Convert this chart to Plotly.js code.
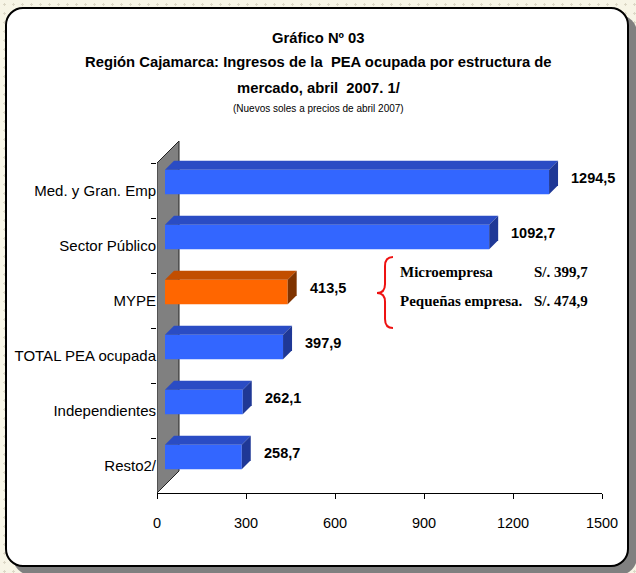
<!DOCTYPE html>
<html>
<head>
<meta charset="utf-8">
<script src="https://cdn.plot.ly/plotly-3.0.1.min.js"></script>
<style>
  html, body { margin: 0; padding: 0; width: 636px; height: 573px; overflow: hidden;
    background-color: #f7f5e6;
    background-image: radial-gradient(circle, #dcd8c6 1px, transparent 1.4px);
    background-size: 9px 9px; }
  #card { position: absolute; left: 5px; top: 7px; width: 624px; height: 560px; box-sizing: border-box;
    border: 2px solid #000; border-radius: 18px; background: #fff; box-shadow: 8px 8px 0 #808080; }
  #chart { position: absolute; left: 0; top: 0; width: 636px; height: 573px; }
</style>
</head>
<body>
<div id="card"></div>
<div id="chart"></div>
<script>
// ---- data ----
const categories = ["Med. y Gran. Emp", "Sector Público", "MYPE", "TOTAL PEA ocupada", "Independientes", "Resto2/"];
const values = [1294.5, 1092.7, 413.5, 397.9, 262.1, 258.7];
const valueLabels = ["1294,5", "1092,7", "413,5", "397,9", "262,1", "258,7"];
const xTickVals = [0, 300, 600, 900, 1200, 1500];
const xTickText = ["0", "300", "600", "900", "1200", "1500"];
const mypeParts = ["Microempresa", "Pequeñas empresa."];
const mypePartLabels = ["S/. 399,7", "S/. 474,9"];

// ---- styles ----
const SANS = "'Liberation Sans', Arial, sans-serif";
const SERIF = "'Liberation Serif', 'Times New Roman', serif";
const W = 636, H = 573;
const M = { l: 157, r: 34, t: 140, b: 80 };
const plotW = W - M.l - M.r, plotH = H - M.t - M.b;
const xMax = 1500;
const kx = xMax / plotW;          // data units per px (x)
const catPx = 55;                 // px per category
const ky = 1 / catPx;             // index units per px (y)
const yTop = -0.5 - (163 - M.t) / catPx;
const yRange = [5.5, yTop];

const blue = { front: "#3366ff", top: "#2a4cc4", side: "#1f3896" };
const orange = { front: "#ff6600", top: "#c24e00", side: "#7f3300" };
const colorsFor = categories.map(c => c === "MYPE" ? orange : blue);

// 3D geometry (px)
const frontDepth = 8, barDepth = 9, wallDepth = 22;
const barOffset = -0.377, barWidth = 0.445;
const dX = frontDepth * kx, ddX = barDepth * kx, ddY = barDepth * ky;

const traces = [];
traces.push({
  type: "bar", orientation: "h", y: categories, x: values,
  base: categories.map(() => dX), offset: barOffset, width: barWidth,
  marker: { color: colorsFor.map(c => c.front), line: { width: 0 } },
  hoverinfo: "skip", showlegend: false
});
categories.forEach((c, i) => {
  const v = values[i];
  const y0 = i + barOffset, y1 = i + barOffset + barWidth;
  traces.push({
    type: "scatter", mode: "lines", yaxis: "y2", fill: "toself",
    x: [dX, dX + ddX, v + dX + ddX, v + dX, dX],
    y: [y0, y0 - ddY, y0 - ddY, y0, y0],
    fillcolor: colorsFor[i].top, line: { width: 0 }, hoverinfo: "skip", showlegend: false
  });
  traces.push({
    type: "scatter", mode: "lines", yaxis: "y2", fill: "toself",
    x: [v + dX, v + dX + ddX, v + dX + ddX, v + dX, v + dX],
    y: [y0, y0 - ddY, y1 - ddY, y1, y0],
    fillcolor: colorsFor[i].side, line: { width: 0 }, hoverinfo: "skip", showlegend: false
  });
});

// helpers px -> paper
const px = X => (X - M.l) / plotW;
const py = Y => (H - M.b - Y) / plotH;
const P = (X, Y) => px(X).toFixed(4) + "," + py(Y).toFixed(4);

const annotations = [];
const titleLines = [
  { text: "<b>Gráfico Nº 03</b>", y: 38, size: 14.8 },
  { text: "<b>Región Cajamarca: Ingresos de la  PEA ocupada por estructura de</b>", y: 62, size: 14.8 },
  { text: "<b>mercado, abril  2007. 1/</b>", y: 88, size: 14.8 },
  { text: "(Nuevos soles a precios de abril 2007)", y: 109, size: 10 }
];
titleLines.forEach(t => annotations.push({
  xref: "paper", yref: "paper", x: px(318), y: py(t.y), xanchor: "center", yanchor: "middle",
  text: t.text, showarrow: false, font: { family: SANS, size: t.size, color: "#000" }
}));
categories.forEach((c, i) => annotations.push({
  xref: "x", yref: "y2", x: values[i] + dX + ddX, y: i, xanchor: "left", yanchor: "middle",
  xshift: 11, yshift: 13, text: "<b>" + valueLabels[i] + "</b>", showarrow: false,
  font: { family: SANS, size: 14.5, color: "#000" }
}));
const rowsY = [272, 301];
mypeParts.forEach((p, j) => {
  annotations.push({ xref: "paper", yref: "paper", x: px(398), y: py(rowsY[j]), xanchor: "left", yanchor: "middle",
    text: "<b>" + p + "</b>", showarrow: false, font: { family: SERIF, size: 15, color: "#000" } });
  annotations.push({ xref: "paper", yref: "paper", x: px(590), y: py(rowsY[j]), xanchor: "right", yanchor: "middle",
    text: "<b>" + mypePartLabels[j] + "</b>", showarrow: false, font: { family: SERIF, size: 15, color: "#000" } });
});

const wX = wallDepth * kx, wY = wallDepth * ky;
const shapes = [
  { type: "path", xref: "x", yref: "y2", layer: "below",
    path: `M 0,5.5 L 0,-0.5 L ${wX},${-0.5 - wY} L ${wX},${5.5 - wY} Z`,
    fillcolor: "#808080", line: { color: "#222", width: 1 } },
  { type: "path", xref: "paper", yref: "paper",
    path: `M ${P(393,257)} Q ${P(385,257)} ${P(385,266)} L ${P(385,284)} Q ${P(385,293)} ${P(377,293)} Q ${P(385,293)} ${P(385,302)} L ${P(385,319)} Q ${P(385,328)} ${P(393,328)}`,
    line: { color: "#ee1111", width: 2 } }
];

const layout = {
  width: W, height: H, margin: M,
  paper_bgcolor: "rgba(0,0,0,0)", plot_bgcolor: "rgba(0,0,0,0)",
  showlegend: false,
  xaxis: { range: [0, xMax], tickvals: xTickVals, ticktext: xTickText, showline: true, linecolor: "#000", linewidth: 1,
    ticks: "outside", ticklen: 5, tickcolor: "#000", showgrid: false, zeroline: false, ticklabelstandoff: 12,
    tickfont: { family: SANS, size: 14.5, color: "#000" } },
  yaxis: { type: "category", categoryorder: "array", categoryarray: categories, range: yRange,
    tickson: "boundaries", ticks: "outside", ticklen: 5, tickcolor: "#000", showgrid: false, zeroline: false,
    showline: false, tickfont: { family: SANS, size: 15, color: "#000" } },
  yaxis2: { overlaying: "y", range: yRange, visible: false },
  annotations: annotations, shapes: shapes
};
Plotly.newPlot("chart", traces, layout, { displayModeBar: false, staticPlot: true });
</script>
</body>
</html>
